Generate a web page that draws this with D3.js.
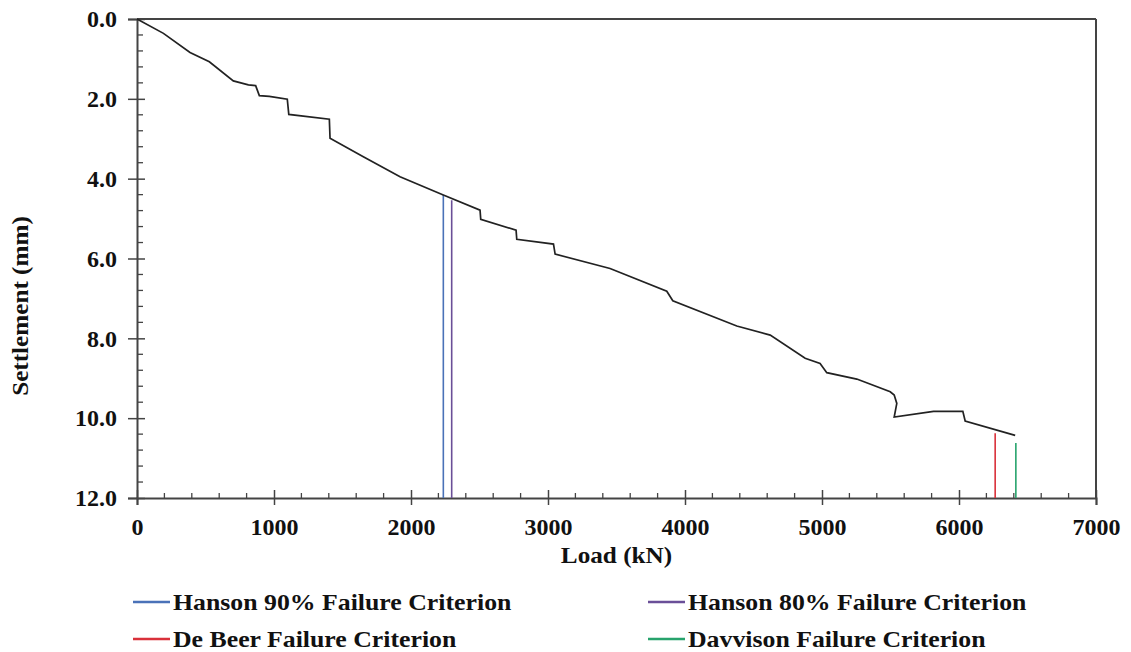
<!DOCTYPE html>
<html>
<head>
<meta charset="utf-8">
<script src="https://cdn.jsdelivr.net/npm/d3@7"></script>
<style>
  html, body { margin: 0; padding: 0; background: #fff; }
  svg { display: block; font-family: "Liberation Serif", "Times New Roman", serif; font-weight: bold; }
</style>
</head>
<body>
<svg id="chart" width="1131" height="652"></svg>
<script>
// Load–settlement curve (kN, mm)
const loads = [0, 193, 387, 528, 703, 813, 866, 893, 966, 1097, 1108, 1404, 1409, 1652, 1920,
  2236, 2504, 2509, 2767, 2772, 3040, 3052, 3453, 3867, 3911, 4378, 4622, 4877, 4986, 5035,
  5254, 5498, 5527, 5546, 5527, 5814, 6028, 6045, 6410];
const settlements = [0, 0.36, 0.84, 1.07, 1.55, 1.65, 1.67, 1.92, 1.94, 2.01, 2.39, 2.51, 2.99, 3.45, 3.95,
  4.41, 4.79, 5.02, 5.29, 5.52, 5.64, 5.89, 6.25, 6.82, 7.06, 7.69, 7.92, 8.50, 8.63, 8.86,
  9.02, 9.34, 9.42, 9.63, 9.97, 9.83, 9.83, 10.07, 10.43];

// Failure criteria (vertical markers)
const criteriaNames = ["Hanson 90% Failure Criterion", "Hanson 80% Failure Criterion",
  "De Beer Failure Criterion", "Davvison Failure Criterion"];
const criteriaLoads = [2236, 2297, 6264, 6415];
const criteriaTops = [4.41, 4.54, 10.38, 10.62];
const criteriaColors = ["#4a72b8", "#6a4f98", "#d9303a", "#27a36c"];

const xTicks = [0, 1000, 2000, 3000, 4000, 5000, 6000, 7000];
const yTicks = [0, 2, 4, 6, 8, 10, 12];

const svg = d3.select("#chart");
const pL = 137, pR = 1096, pT = 19, pB = 498;
const x = d3.scaleLinear().domain([0, 7000]).range([pL, pR]);
const y = d3.scaleLinear().domain([0, 12]).range([pT, pB]);
const axisColor = "#444";
const fs = "24px";

const xMinor = d3.range(0, 7001, 200).filter(v => v % 1000 !== 0);
const yMinor = d3.range(0, 12.001, 0.4).map(v => +v.toFixed(1))
  .filter(v => Math.abs(v / 2 - Math.round(v / 2)) > 1e-6);

const gx = svg.append("g").attr("transform", `translate(0,${pB})`)
  .call(d3.axisBottom(x).tickValues(xTicks).tickSize(7).tickPadding(13).tickFormat(d3.format("d")));
const gy = svg.append("g").attr("transform", `translate(${pL},0)`)
  .call(d3.axisLeft(y).tickValues(yTicks).tickSize(9).tickPadding(11).tickFormat(d3.format(".1f")));
[gx, gy].forEach(g => {
  g.select(".domain").attr("stroke", axisColor).attr("stroke-width", 2);
  g.selectAll(".tick line").attr("stroke", axisColor).attr("stroke-width", 1.5);
  g.selectAll(".tick text").attr("fill", "#111").style("font-size", fs)
    .style("font-family", '"Liberation Serif", serif').style("font-weight", "bold");
});
gx.selectAll(".tick line").attr("y1", -8);
gy.selectAll(".tick line").attr("x1", 8);

svg.append("g").selectAll("line").data(xMinor).join("line")
  .attr("x1", d => x(d)).attr("x2", d => x(d)).attr("y1", pB).attr("y2", pB - 5)
  .attr("stroke", axisColor).attr("stroke-width", 1.3);
svg.append("g").selectAll("line").data(yMinor).join("line")
  .attr("x1", pL).attr("x2", pL + 6).attr("y1", d => y(d)).attr("y2", d => y(d))
  .attr("stroke", axisColor).attr("stroke-width", 1.3);

svg.append("line").attr("x1", pL).attr("x2", pR).attr("y1", pT).attr("y2", pT)
  .attr("stroke", axisColor).attr("stroke-width", 2);
svg.append("line").attr("x1", pR).attr("x2", pR).attr("y1", pT).attr("y2", pB)
  .attr("stroke", axisColor).attr("stroke-width", 2);

svg.append("g").selectAll("line").data(criteriaLoads).join("line")
  .attr("x1", d => x(d)).attr("x2", d => x(d))
  .attr("y1", (d, i) => y(criteriaTops[i])).attr("y2", pB)
  .attr("stroke", (d, i) => criteriaColors[i]).attr("stroke-width", 1.6);

const pts = loads.map((l, i) => [l, settlements[i]]);
svg.append("path").datum(pts)
  .attr("d", d3.line().x(d => x(d[0])).y(d => y(d[1])))
  .attr("fill", "none").attr("stroke", "#222").attr("stroke-width", 1.7);

svg.append("text").attr("transform", `translate(${(pL + pR) / 2},563) scale(1.05,1)`).attr("text-anchor", "middle")
  .style("font-size", fs).attr("fill", "#111").text("Load (kN)");
svg.append("text").attr("transform", "translate(28,306) rotate(-90) scale(1.05,1)").attr("text-anchor", "middle")
  .style("font-size", fs).attr("fill", "#111").text("Settlement (mm)");

const legX = [133, 648], legY = [602, 639];
const leg = svg.append("g").selectAll("g").data(criteriaNames).join("g")
  .attr("transform", (d, i) => `translate(${legX[i % 2]},${legY[Math.floor(i / 2)]})`);
leg.append("line").attr("x1", 0).attr("x2", 37).attr("y1", 0).attr("y2", 0)
  .attr("stroke", (d, i) => criteriaColors[i]).attr("stroke-width", 2.5);
leg.append("text").attr("transform", "translate(40,0) scale(1.075,1)").attr("dy", "0.33em")
  .style("font-size", fs).attr("fill", "#111").text(d => d);
</script>
</body>
</html>
